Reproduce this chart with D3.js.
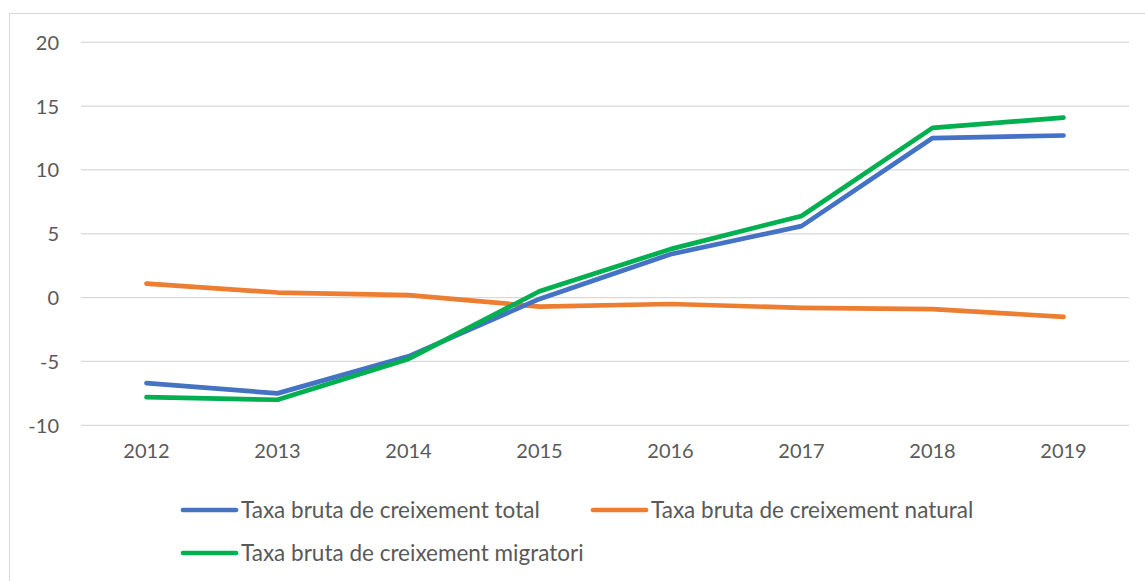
<!DOCTYPE html>
<html><head><meta charset="utf-8">
<script src="https://cdn.jsdelivr.net/npm/d3@7"></script>
<style>html,body{margin:0;padding:0;background:#fff;overflow:hidden}</style>
</head><body>
<svg id="c" width="1145" height="581"></svg>
<script>
const years = ["2012","2013","2014","2015","2016","2017","2018","2019"];
const total = [-6.7, -7.5, -4.6, -0.1, 3.4, 5.6, 12.5, 12.7];
const natural = [1.1, 0.4, 0.2, -0.7, -0.5, -0.8, -0.9, -1.5];
const migratori = [-7.8, -8.0, -4.8, 0.5, 3.8, 6.4, 13.3, 14.1];
const yTicks = [-10, -5, 0, 5, 10, 15, 20];
const seriesNames = ["Taxa bruta de creixement total", "Taxa bruta de creixement natural", "Taxa bruta de creixement migratori"];
const colors = ["#4472C4", "#ED7D31", "#00B050"];

const svg = d3.select("#c");
const font = "Lato, 'Open Sans', sans-serif";
const txt = "#595959";

svg.append("rect").attr("x", 9.5).attr("y", 13.5).attr("width", 1145).attr("height", 600)
  .attr("fill", "#fff").attr("stroke", "#d9d9d9").attr("stroke-width", 1);

const x = d3.scaleBand().domain(years).range([81, 1129]);
const y = d3.scaleLinear().domain([-10, 20]).range([425.3, 42.3]);

// gridlines
svg.append("g").selectAll("line").data(yTicks).join("line")
  .attr("x1", 81).attr("x2", 1129)
  .attr("y1", d => y(d)).attr("y2", d => y(d))
  .attr("stroke", "#d9d9d9").attr("stroke-width", 1.3);

// y axis labels
const yAxis = d3.axisLeft(y).tickValues(yTicks).tickSize(0).tickPadding(0).tickFormat(d => String(d));
const gy = svg.append("g").attr("transform", "translate(59,0)").call(yAxis);
gy.select(".domain").remove();
gy.selectAll("text").attr("font-family", font).attr("font-size", 20).attr("fill", txt).attr("dy", "0.35em");

// x axis labels
const xAxis = d3.axisBottom(x).tickSize(0).tickPadding(0);
const gx = svg.append("g").attr("transform", "translate(0,444)").call(xAxis);
gx.select(".domain").remove();
gx.selectAll("text").attr("font-family", font).attr("font-size", 20).attr("fill", txt).attr("dy", "0.71em");

const all = [total, natural, migratori];
const line = d3.line().x((d, i) => x(years[i]) + x.bandwidth() / 2).y(d => y(d));
const order = [1, 0, 2];
order.forEach(k => {
  svg.append("path").datum(all[k]).attr("d", line)
    .attr("fill", "none").attr("stroke", colors[k]).attr("stroke-width", 4.7)
    .attr("stroke-linecap", "round").attr("stroke-linejoin", "round");
});

// legend
const legPos = [[183, 510], [593, 510], [183, 553]];
seriesNames.forEach((n, k) => {
  const g = svg.append("g").attr("transform", `translate(${legPos[k][0]},${legPos[k][1]})`);
  g.append("line").attr("x1", 0).attr("x2", 53).attr("y1", 0).attr("y2", 0)
    .attr("stroke", colors[k]).attr("stroke-width", 4.7).attr("stroke-linecap", "round");
  g.append("text").attr("x", 58).attr("y", 0).attr("dy", "0.35em")
    .attr("font-family", font).attr("font-size", 22.5).attr("fill", txt).text(n);
});
</script>
</body></html>
